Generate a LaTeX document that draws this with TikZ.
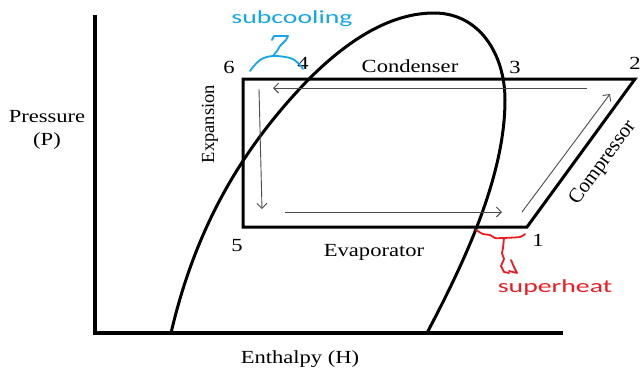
\documentclass[tikz,border=0pt]{standalone}
\usepackage{fontspec}
\setmainfont{Liberation Serif}
\newfontfamily\lblserif[FakeStretch=1.22]{Liberation Serif}
\newfontfamily\lblsans[FakeStretch=1.5]{Carlito}
\usetikzlibrary{arrows.meta}
\definecolor{subblue}{RGB}{20,165,235}
\definecolor{supred}{RGB}{237,28,36}
\tikzset{
  thick line/.style={line width=3pt, line join=miter},
  flowarrow/.style={line width=0.9pt, draw=black!70, -{Straight Barb[length=5pt,width=10pt,line width=0.9pt]}},
  serif label/.style={inner sep=0pt, anchor=base, font=\lblserif\fontsize{18.5}{20}\selectfont},
  rot label/.style={inner sep=0pt, font=\fontsize{18.5}{20}\selectfont},
  sans label/.style={inner sep=0pt, anchor=base, font=\lblsans\fontsize{18.5}{20}\selectfont},
  note/.style={line width=1.8pt, line cap=round, line join=round}
}
\begin{document}
\begin{tikzpicture}[x=1pt,y=-1pt]
\useasboundingbox (0,0) rectangle (641,370);
\fill[white] (0,0) rectangle (641,370);
% axes
\coordinate (ytop) at (95,15);
\coordinate (origin) at (95,333);
\coordinate (xend) at (563,333);
\draw[thick line, line width=3.3pt] (ytop) -- (origin) -- (xend);
% saturation dome
\coordinate (dl) at (171,333);
\coordinate (dm) at (309,79);
\coordinate (dtop) at (434,13);
\coordinate (dr) at (505,100);
\coordinate (drf) at (427,333);
\draw[thick line] (dl) .. controls (195,230) and (240,150) .. (dm)
  .. controls (350,38) and (392,13) .. (dtop)
  .. controls (480,13) and (505,55) .. (dr)
  .. controls (505,180) and (460,270) .. (drf);
% cycle
\coordinate (c6) at (243,79);
\coordinate (c2) at (635,79);
\coordinate (c1) at (527,227);
\coordinate (c5) at (243,227);
\draw[thick line] (c6) -- (c2) -- (c1) -- (c5) -- cycle;
% flow arrows
\coordinate (a1s) at (587,88); \coordinate (a1e) at (273,88);
\coordinate (a2s) at (259,89); \coordinate (a2e) at (262,209);
\coordinate (a3s) at (285,212); \coordinate (a3e) at (502,212);
\coordinate (a4s) at (522,212); \coordinate (a4e) at (610,94);
\draw[flowarrow] (a1s) -- (a1e);
\draw[flowarrow] (a2s) -- (a2e);
\draw[flowarrow] (a3s) -- (a3e);
\draw[flowarrow] (a4s) -- (a4e);
% labels
\node[serif label] (pres) at (47,122) {Pressure};
\node[serif label] (presP) at (47,145) {(P)};
\node[serif label] (enth) at (300,363) {Enthalpy (H)};
\node[serif label] (n6) at (229,73) {6};
\node[serif label] (n4) at (303,69) {4};
\node[serif label] (cond) at (410,72) {Condenser};
\node[serif label] (n3) at (515,73) {3};
\node[serif label] (n2) at (635,69) {2};
\node[serif label] (n5) at (237,251) {5};
\node[serif label] (evap) at (374,256) {Evaporator};
\node[serif label] (n1) at (538,246) {1};
\node[rot label, rotate=90] (expn) at (210,124) {Expansion};
\node[rot label, rotate=54, font=\fontsize{20.5}{22}\selectfont] (comp) at (603,163) {Compressor};
\node[sans label, text=subblue] (subc) at (292,23) {subcooling};
\node[sans label, text=supred] (suph) at (555,292) {superheat};
% subcooling annotation
\draw[note, subblue] plot[smooth, tension=0.6] coordinates {(250,71) (260,60) (273,56) (290,58) (298,63) (303,69)};
\draw[note, subblue] (273,56) -- (277,51) -- (280,46) -- (286,40) -- (288,36) -- (274,36) -- (272,40);
% superheat annotation
\draw[note, supred] plot[smooth, tension=0.4] coordinates {(476,230) (483,234) (490,235) (495,238) (503,238) (520,237) (525,234)};
\draw[note, supred] (504,238) -- (503,248) -- (502,253) -- (504,259) -- (501,266) -- (504,272) -- (509,273);
\draw[note, supred] (511,260) -- (514,267) -- (517,273) -- (509,271);
\end{tikzpicture}
\end{document}
